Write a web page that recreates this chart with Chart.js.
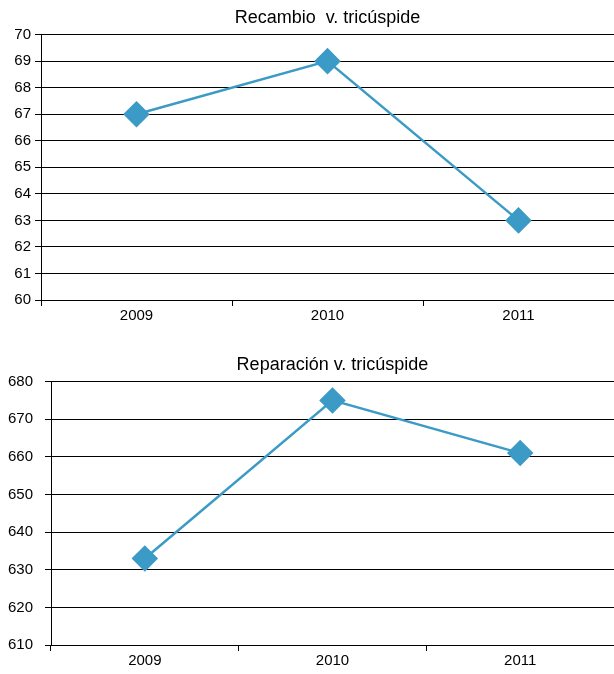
<!DOCTYPE html>
<html>
<head>
<meta charset="utf-8">
<script src="https://cdn.jsdelivr.net/npm/chart.js@4"></script>
<style>
    body { margin: 0; background: #fff; overflow: hidden; }
    canvas { position: absolute; left: 0; }
    #recambioChart { top: 0; }
    #reparacionChart { top: 347px; }
</style>
</head>
<body>
<canvas id="recambioChart" width="614" height="330"></canvas>
<canvas id="reparacionChart" width="614" height="327"></canvas>
<script>
const years = ["2009", "2010", "2011"];
const recambioValues = [67, 69, 63];
const reparacionValues = [633, 675, 661];

const lineColor = "#3b9bc6";
const fontFamily = "'Liberation Sans', Arial, Helvetica, sans-serif";

function makeChart(id, title, values, yMin, yMax, step, yWidth, yPad, xHeight) {
    const ctx = document.getElementById(id).getContext('2d');
    return new Chart(ctx, {
        type: 'line',
        data: {
            labels: years,
            datasets: [{
                data: values,
                borderColor: lineColor,
                backgroundColor: lineColor,
                borderWidth: 2.5,
                pointStyle: 'rectRot',
                pointRadius: 11.5,
                pointBackgroundColor: lineColor,
                pointBorderColor: lineColor,
                tension: 0,
            }]
        },
        options: {
            responsive: false,
            animation: false,
            devicePixelRatio: 1,
            layout: { padding: 0, autoPadding: false },
            plugins: {
                legend: { display: false },
                tooltip: { enabled: false },
                title: {
                    display: true,
                    fullSize: false,
                    text: title,
                    color: '#000',
                    font: { family: fontFamily, size: 18, weight: 'normal', lineHeight: 1.2 },
                    padding: { top: 7, bottom: 6 },
                },
            },
            scales: {
                x: {
                    offset: true,
                    grid: {
                        offset: true,
                        drawOnChartArea: false,
                        drawTicks: true,
                        tickLength: 6,
                        color: '#000',
                    },
                    border: { display: true, color: '#000', width: 1 },
                    ticks: {
                        color: '#000',
                        padding: 1,
                        font: { family: fontFamily, size: 15 },
                    },
                    afterFit: function(scale) { scale.height = xHeight; },
                },
                y: {
                    min: yMin,
                    max: yMax,
                    grid: {
                        color: '#000',
                        lineWidth: 1,
                        tickLength: 6,
                    },
                    border: { display: true, color: '#000', width: 1 },
                    ticks: {
                        stepSize: step,
                        color: '#000',
                        padding: yPad,
                        font: { family: fontFamily, size: 15 },
                    },
                    afterFit: function(scale) { scale.width = yWidth; },
                },
            },
        },
    });
}

document.addEventListener("DOMContentLoaded", function() {
    makeChart('recambioChart', 'Recambio  v. tricúspide', recambioValues, 60, 70, 1, 41, 4, 30);
    makeChart('reparacionChart', 'Reparación v. tricúspide', reparacionValues, 610, 680, 10, 51, 12, 29);
});
</script>
</body>
</html>
